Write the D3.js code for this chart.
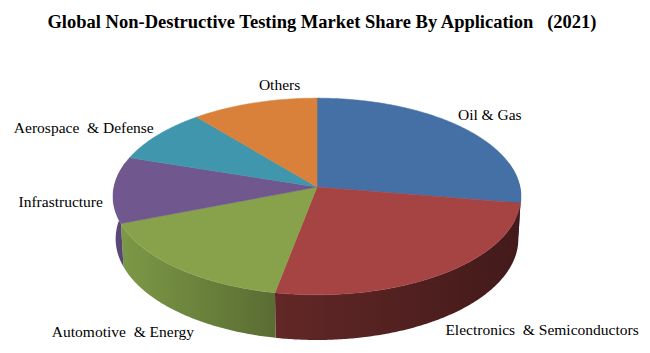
<!DOCTYPE html>
<html>

<head>
    <title>NDT Market Share Pie</title>
    <script src="https://cdn.jsdelivr.net/npm/d3@7"></script>
    <style>
        body { margin: 0; background: #fff; }
        text { font-family: 'Liberation Serif', 'Times New Roman', serif; white-space: pre; }
    </style>
</head>

<body>
    <svg width="650" height="353" id="mainsvg"></svg>
    <script>
        // data (share in %)
        const categories = ['Oil & Gas', 'Electronics  & Semiconductors', 'Automotive  & Energy',
            'Infrastructure', 'Aerospace  & Defense', 'Others'];
        const shares = [27.6, 25.4, 16.1, 10.9, 9.0, 11.0];

        const topColors = ['#4570a6', '#a54443', '#87a24b', '#70578e', '#4096ad', '#d9803b'];
        // wall gradient (left -> right)
        const wallColors = [['#2f4f76', '#2a4468'], ['#622727', '#431a1a'], ['#7c9946', '#5a6c33'],
            ['#5f4a7b', '#554270'], ['#35809a', '#2c6e85'], ['#b56a30', '#a05d2a']];
        // label nudges from the projected anchor point
        const labelShift = [[0, 3], [71, 42], [-23, 51], [-12, 17], [-44, 8], [37, 2]];

        const svg = d3.select('#mainsvg');
        const width = +svg.attr('width');

        // simple perspective camera for a tilted disc
        const cx = 317, cy = 187, k = 203;
        const phi = Math.asin(0.48), D = 9.11, thick = 0.24;
        const proj = function (theta, r, h) {
            const X = r * Math.sin(theta), Z = -r * Math.cos(theta);
            const yc = h * Math.cos(phi) - Z * Math.sin(phi);
            const zc = D - Z * Math.cos(phi) - h * Math.sin(phi);
            return [cx + k * D * X / zc, cy - k * D * yc / zc];
        };

        const arcPts = function (a0, a1, r, h) {
            const n = Math.max(2, Math.ceil(Math.abs(a1 - a0) / 0.01));
            return d3.range(n + 1).map(i => proj(a0 + (a1 - a0) * i / n, r, h));
        };
        const line = d3.line();

        svg.append('text')
            .attr('x', width / 2 - 3)
            .attr('y', 28)
            .attr('text-anchor', 'middle')
            .attr('font-size', '18.5px')
            .attr('font-weight', 'bold')
            .attr('fill', '#000')
            .text('Global Non-Destructive Testing Market Share By Application   (2021)');

        const pie = d3.pie().sort(null).value(d => d);
        const arcs = pie(shares);

        const defs = svg.append('defs');
        const g = svg.append('g');

        // outer walls (only the front half is visible)
        const wallLo = Math.PI * 0.42, wallHi = Math.PI * 1.58;
        arcs.forEach((a, i) => {
            const a0 = Math.max(a.startAngle, wallLo), a1 = Math.min(a.endAngle, wallHi);
            if (a1 <= a0) return;
            const topEdge = arcPts(a0, a1, 1, 0);
            const botEdge = arcPts(a1, a0, 1, -thick);
            const pts = topEdge.concat(botEdge);
            const xs = d3.extent(pts, p => p[0]);
            const grad = defs.append('linearGradient')
                .attr('id', 'wall' + i)
                .attr('gradientUnits', 'userSpaceOnUse')
                .attr('x1', xs[0]).attr('x2', xs[1])
                .attr('y1', 0).attr('y2', 0);
            grad.append('stop').attr('offset', '0%').attr('stop-color', wallColors[i][0]);
            grad.append('stop').attr('offset', '100%').attr('stop-color', wallColors[i][1]);
            g.append('path')
                .attr('d', line(pts) + 'Z')
                .attr('fill', `url(#wall${i})`);
        });

        // top faces
        g.selectAll('.slice').data(arcs).join('path')
            .attr('class', 'slice')
            .attr('d', a => line([proj(0, 0, 0)].concat(arcPts(a.startAngle, a.endAngle, 1, 0))) + 'Z')
            .attr('fill', (a, i) => topColors[i])
            .attr('stroke', (a, i) => topColors[i])
            .attr('stroke-width', 0.5);

        // labels
        svg.selectAll('.lbl').data(arcs).join('text')
            .attr('class', 'lbl')
            .attr('x', (a, i) => proj((a.startAngle + a.endAngle) / 2, 1.2, 0)[0] + labelShift[i][0])
            .attr('y', (a, i) => proj((a.startAngle + a.endAngle) / 2, 1.2, 0)[1] + labelShift[i][1])
            .attr('text-anchor', 'middle')
            .attr('font-size', '15.5px')
            .attr('fill', '#000')
            .text((a, i) => categories[i]);
    </script>
</body>

</html>
